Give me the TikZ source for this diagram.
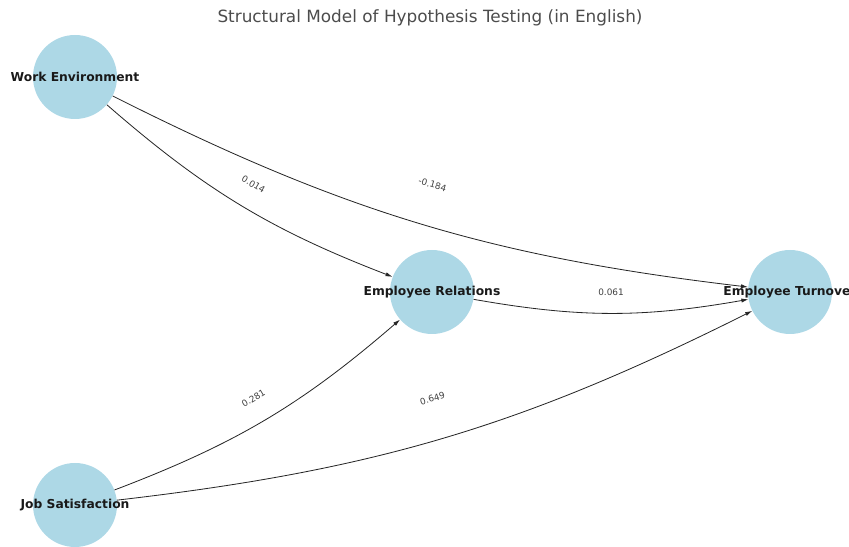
\documentclass[tikz,border=0pt]{standalone}
\usepackage{fontspec}
\setmainfont{DejaVu Sans}
\usetikzlibrary{arrows.meta}

\definecolor{nodeblue}{RGB}{173,216,230}

\tikzset{
  hyp/.style={circle,fill=nodeblue,minimum size=25.2mm,inner sep=0pt},
  hyplabel/.style={font=\bfseries\fontsize{10.5}{12}\selectfont,text=black!90},
  path/.style={-{Latex[length=6pt,width=3.6pt]},line width=0.7pt,black!85,bend right=10},
  coef/.style={sloped,font=\fontsize{7.6}{9}\selectfont,text=black!75},
}

\begin{document}
\begin{tikzpicture}[x=0.3mm,y=0.3mm]
  \useasboundingbox (0,0) rectangle (849,547);
  \node[font=\fontsize{14.4}{16}\selectfont,text=black!70] (title) at (430,529) {Structural Model of Hypothesis Testing (in English)};

  \node[hyp,label={[hyplabel]center:Work Environment}] (we) at (75,470) {};
  \node[hyp,label={[hyplabel]center:Employee Relations}] (er) at (432,255) {};
  \node[hyp,label={[hyplabel]center:Employee Turnover}] (et) at (790,255) {};
  \node[hyp,label={[hyplabel]center:Job Satisfaction}] (js) at (75,42) {};

  \draw[path] (we) to (er);
  \draw[path] (we) to (et);
  \draw[path] (er) to (et);
  \draw[path] (js) to (er);
  \draw[path] (js) to (et);

  % coefficients at the straight midpoints
  \path (we.center) -- node[coef] {0.014} (er.center);
  \path (we.center) -- node[coef] {-0.184} (et.center);
  \path (er.center) -- node[coef] {0.061} (et.center);
  \path (js.center) -- node[coef] {0.281} (er.center);
  \path (js.center) -- node[coef] {0.649} (et.center);
\end{tikzpicture}
\end{document}
